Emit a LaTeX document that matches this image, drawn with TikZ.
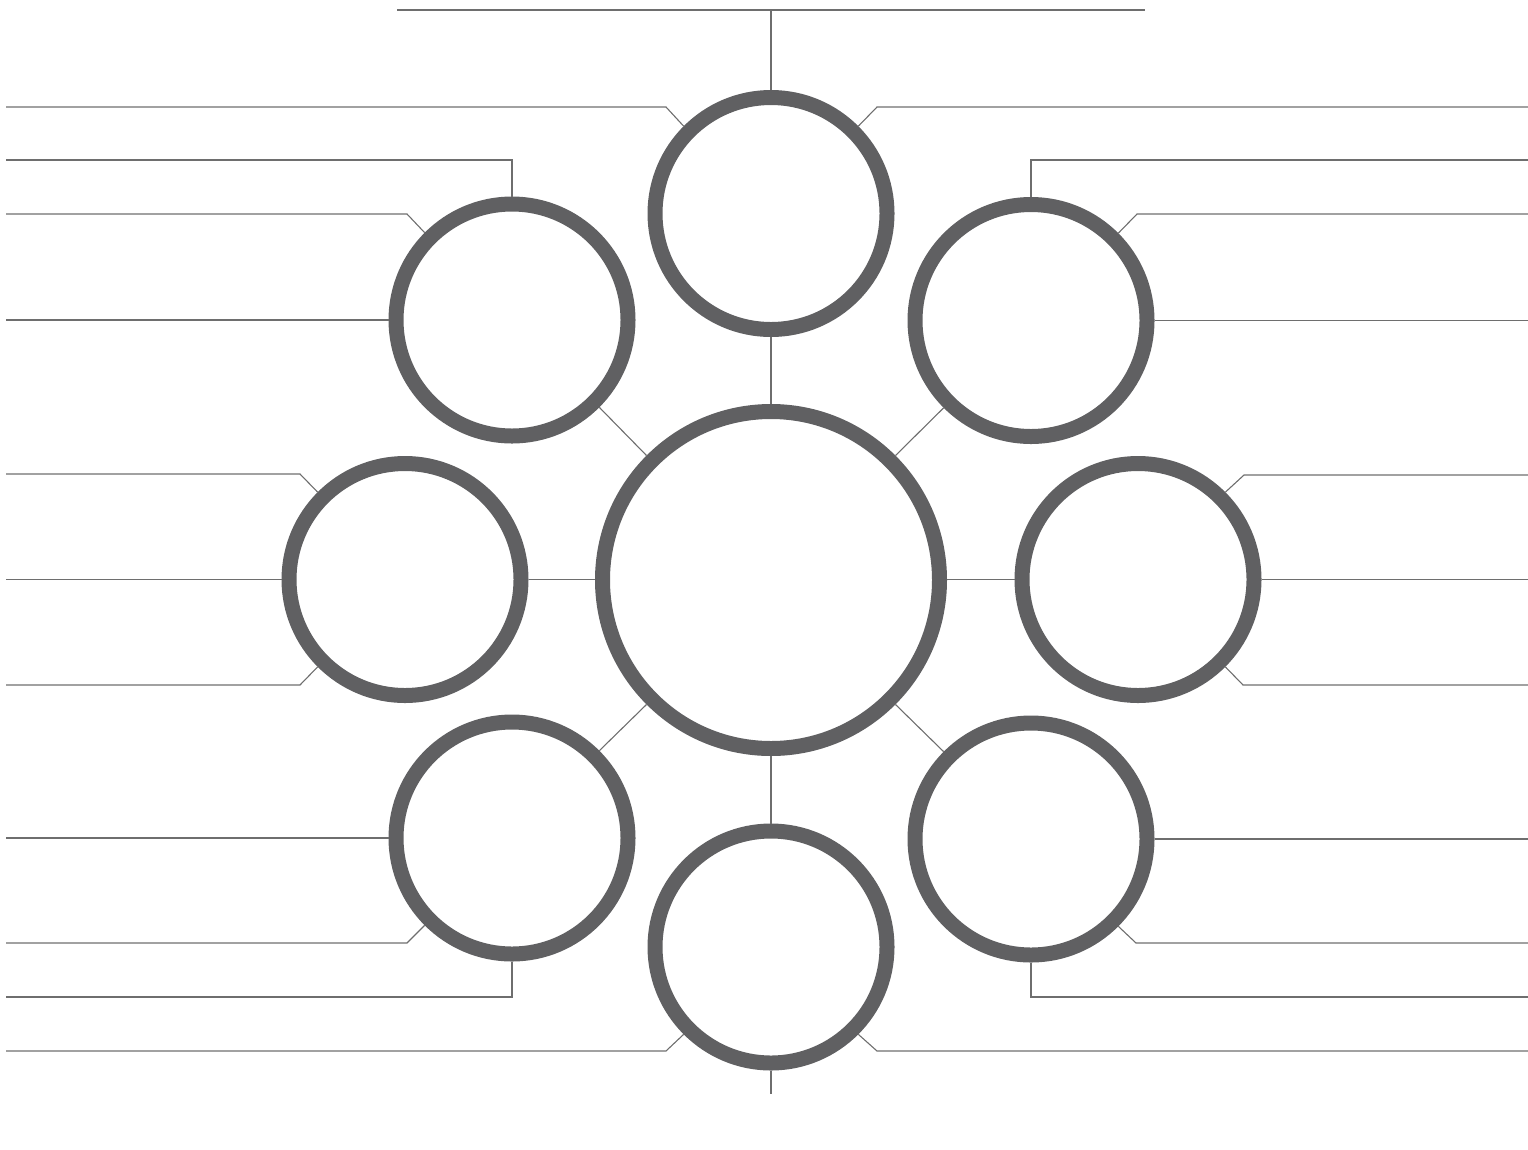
\documentclass[tikz,border=0pt]{standalone}
\usetikzlibrary{calc}
\definecolor{ringgray}{HTML}{606062}
\definecolor{linegray}{HTML}{6E6E6E}
\begin{document}
\begin{tikzpicture}[x=1pt,y=-1pt,
  ring/.style={circle,draw=ringgray,line width=15pt,inner sep=0pt,fill=white},
  small/.style={ring,minimum size=232pt},
  big/.style={ring,minimum size=337pt},
  conn/.style={draw=linegray,line width=1.1pt}]
\useasboundingbox (0,0) rectangle (1528,1149);
% circles
\node[big] (C) at (771,580) {};
\node[small] (T) at (771,213.5) {};
\node[small] (TL) at (512,320) {};
\node[small] (TR) at (1031,320.5) {};
\node[small] (L) at (405,579.5) {};
\node[small] (R) at (1138,579.5) {};
\node[small] (BL) at (512,838) {};
\node[small] (BR) at (1031,839) {};
\node[small] (B) at (771,947) {};
% free-end coordinates
\coordinate (topL) at (397,10);
\coordinate (topR) at (1145,10);
\coordinate (topM) at (771,10);
\coordinate (botM) at (771,1094);
\coordinate (lft) at (6,0);
\coordinate (rgt) at (1528,0);
% top horizontal
\draw[conn,line width=1.4pt] (topL) -- (topR);
\draw[conn] (T.north) -- (topM);
\draw[conn] (T.south) -- (C.north);
\draw[conn] (B.south) -- (botM);
\draw[conn] (C.south) -- (B.north);
\draw[conn] (L.east) -- (L.east -| C.west);
\draw[conn] (R.west) -- (R.west -| C.east);
\draw[conn] (TL.-45) -- (C.135);
\draw[conn] (TR.-135) -- (C.45);
\draw[conn] (BL.45) -- (C.-135);
\draw[conn] (BR.135) -- (C.-45);
% left side leaders
\draw[conn] (T.135) -- (666,107) -- (6,107);
\draw[conn] (TL.north) -- (512,160) -- (6,160);
\draw[conn] (TL.135) -- (407,214) -- (6,214);
\draw[conn] (TL.west) -- (TL.west -| lft);
\draw[conn] (L.135) -- (300,474) -- (6,474);
\draw[conn] (L.west) -- (L.west -| lft);
\draw[conn] (L.-135) -- (300,685) -- (6,685);
\draw[conn] (BL.west) -- (BL.west -| lft);
\draw[conn] (BL.-135) -- (407,943) -- (6,943);
\draw[conn] (BL.south) -- (512,997) -- (6,997);
\draw[conn] (B.-135) -- (666,1051) -- (6,1051);
% right side leaders
\draw[conn] (T.45) -- (877,107) -- (1528,107);
\draw[conn] (TR.north) -- (1031,160) -- (1528,160);
\draw[conn] (TR.45) -- (1137,214) -- (1528,214);
\draw[conn] (TR.east) -- (TR.east -| rgt);
\draw[conn] (R.45) -- (1244,475) -- (1528,475);
\draw[conn] (R.east) -- (R.east -| rgt);
\draw[conn] (R.-45) -- (1243,685) -- (1528,685);
\draw[conn] (BR.east) -- (BR.east -| rgt);
\draw[conn] (BR.-45) -- (1136,943) -- (1528,943);
\draw[conn] (BR.south) -- (1031,997) -- (1528,997);
\draw[conn] (B.-45) -- (877,1051) -- (1528,1051);
\end{tikzpicture}
\end{document}
